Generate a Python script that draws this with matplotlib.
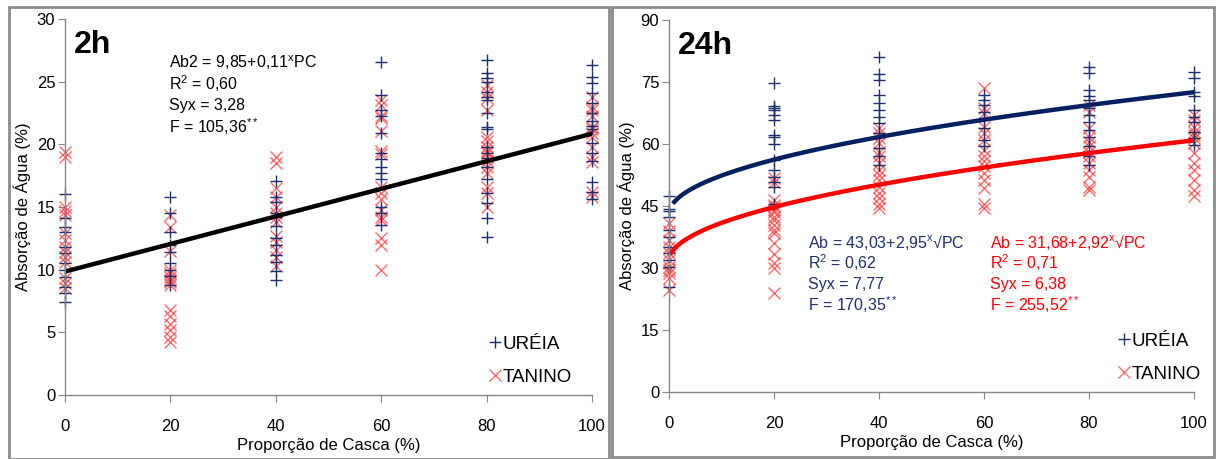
import matplotlib
matplotlib.use("Agg")
import matplotlib.pyplot as plt
from matplotlib.lines import Line2D
from matplotlib.patches import Rectangle
import numpy as np

plt.rcParams['font.family'] = ['Liberation Sans', 'DejaVu Sans']
plt.rcParams['mathtext.fontset'] = 'custom'
plt.rcParams['mathtext.rm'] = 'Liberation Sans'
plt.rcParams['mathtext.it'] = 'Liberation Sans'
plt.rcParams['mathtext.default'] = 'rm'

proporcao = [0, 20, 40, 60, 80, 100]

# 2h - valores
ureia_2h = [
    [16.0, 14.1, 13.4, 13.0, 11.8, 11.3, 10.5, 10.0, 9.4, 8.6, 8.1, 7.4],
    [15.8, 14.5, 13.0, 12.0, 11.4, 10.5, 10.0, 9.5, 8.8],
    [17.1, 15.8, 15.4, 14.5, 14.2, 13.5, 12.5, 12.0, 11.2, 10.6, 9.9, 9.2],
    [26.6, 23.9, 22.7, 22.3, 20.9, 19.3, 18.8, 18.2, 17.7, 17.2, 15.0, 14.5, 13.6],
    [26.7, 25.7, 25.3, 25.0, 24.2, 23.8, 23.5, 22.5, 21.4, 21.2, 19.8, 19.3, 18.9,
     18.2, 17.2, 16.1, 15.3, 14.1, 12.6],
    [26.3, 25.4, 24.9, 24.1, 23.3, 22.5, 21.9, 21.5, 21.2, 20.1, 19.3, 18.7, 17.0,
     16.2, 15.6],
]
tanino_2h = [
    [19.4, 19.0, 15.0, 14.7, 14.4, 12.9, 12.4, 11.8, 11.4, 11.0, 10.6, 9.3, 8.9, 8.5],
    [14.4, 13.4, 11.5, 10.0, 9.7, 9.4, 9.2, 9.0, 8.8, 6.8, 6.3, 5.7, 5.2, 4.6, 4.2],
    [19.0, 18.5, 16.5, 15.8, 15.0, 14.5, 14.2, 13.8, 12.7, 12.2, 11.6, 11.0, 10.3],
    [23.5, 23.1, 22.3, 22.1, 21.1, 19.5, 19.2, 16.6, 16.1, 15.6, 14.8, 14.2, 14.0,
     12.5, 12.0, 10.0],
    [24.7, 24.2, 23.7, 22.7, 20.6, 20.3, 19.8, 19.5, 19.3, 19.0, 18.7, 18.2, 17.7,
     16.6, 16.1, 15.0],
    [23.8, 23.0, 22.7, 22.3, 21.4, 21.2, 20.9, 20.6, 19.8, 19.0, 18.6, 16.2, 15.8],
]

# 24h
ureia_24h = [
    [47.3, 44.2, 43.9, 42.4, 39.2, 37.6, 35.2, 33.6, 32.0, 30.3, 25.5],
    [74.7, 69.2, 68.6, 68.2, 67.0, 65.8, 62.2, 61.8, 60.0, 56.1, 53.7, 52.1, 50.9,
     49.7, 45.6],
    [81.1, 76.9, 75.5, 71.9, 69.9, 68.2, 66.6, 65.0, 62.6, 61.8, 59.0, 57.0, 54.9],
    [71.9, 70.6, 69.4, 67.8, 66.2, 63.8, 61.0, 59.4],
    [78.7, 77.1, 73.1, 71.5, 70.6, 68.6, 67.0, 65.4, 63.4, 61.8, 59.4, 57.0, 54.9],
    [77.5, 75.9, 72.7, 71.5, 68.2, 66.6, 65.4, 63.0, 61.4, 59.8],
]
tanino_24h = [
    [40.8, 39.0, 36.8, 35.2, 33.6, 32.0, 30.3, 29.5, 28.7, 27.6, 24.7],
    [51.7, 50.9, 46.5, 45.2, 44.8, 44.0, 43.6, 42.4, 41.6, 40.4, 39.2, 38.4, 36.0,
     33.5, 31.1, 29.9, 23.9],
    [63.8, 62.6, 61.4, 60.2, 58.1, 57.0, 55.3, 53.7, 52.5, 51.3, 49.7, 48.1, 46.9,
     45.6, 44.4],
    [73.5, 68.6, 67.4, 64.2, 62.6, 61.0, 58.6, 57.0, 55.9, 54.7, 52.9, 51.3, 49.3,
     45.6, 44.4],
    [69.4, 67.8, 63.8, 61.8, 60.6, 59.4, 58.1, 57.0, 55.3, 53.7, 52.1, 49.7, 48.9],
    [67.0, 65.8, 64.2, 63.0, 62.2, 61.4, 60.2, 57.8, 55.3, 53.7, 51.3, 48.9, 47.3],
]

AZUL = '#1c2f6e'
VERMELHO = '#ff3b3b'
CINZA = '#868686'


def pontos(grupos):
    xs, ys = [], []
    for x, vals in zip(proporcao, grupos):
        xs += [x] * len(vals)
        ys += vals
    return xs, ys


def formatar(ax, ymax, ystep):
    ax.set_xlim(0, 100)
    ax.set_ylim(0, ymax)
    ax.set_xticks(proporcao)
    ax.set_yticks(np.arange(0, ymax + 1, ystep))
    for s in ['top', 'right']:
        ax.spines[s].set_visible(False)
    for s in ['left', 'bottom']:
        ax.spines[s].set_color(CINZA)
        ax.spines[s].set_linewidth(1)
    ax.tick_params(axis='both', colors=CINZA, labelcolor='black', length=5,
                   direction='out', labelsize=12)
    ax.tick_params(axis='x', pad=12)
    ax.tick_params(axis='y', pad=2)
    ax.set_xlabel('Proporção de Casca (%)', fontsize=12, labelpad=3)
    ax.set_ylabel('Absorção de Água (%)', fontsize=12, labelpad=4)
    ax.set_facecolor('none')


def scatter(ax, ur, ta):
    x, y = pontos(ta)
    ax.plot(x, y, 'x', color=VERMELHO, ms=8, mew=1.0, alpha=0.75, clip_on=False)
    x, y = pontos(ur)
    ax.plot(x, y, '+', color=AZUL, ms=9, mew=1.0, clip_on=False)


def legenda(ax, loc):
    h = [Line2D([], [], ls='none', marker='+', color=AZUL, ms=9, mew=1.0),
         Line2D([], [], ls='none', marker='x', color=VERMELHO, ms=8, mew=1.0, alpha=0.75)]
    ax.legend(h, ['URÉIA', 'TANINO'], frameon=False, loc='lower left',
              bbox_to_anchor=loc, fontsize=13.5, handlelength=0.5,
              handletextpad=0.15, labelspacing=0.85, borderpad=0)


fig = plt.figure(figsize=(12.16, 4.59), dpi=100)

# molduras
fig.patches.append(Rectangle((9 / 1216, 0), 600 / 1216, 452 / 459, transform=fig.transFigure,
                             fill=False, ec='#8c8c8c', lw=2))
fig.patches.append(Rectangle((612 / 1216, 2 / 459), 602 / 1216, 450 / 459, transform=fig.transFigure,
                             fill=False, ec='#8c8c8c', lw=2))

# painel 2h
ax1 = fig.add_axes([65 / 1216, 1 - 395 / 459, 527 / 1216, 376 / 459])
formatar(ax1, 30, 5)
scatter(ax1, ureia_2h, tanino_2h)
xl = np.linspace(0, 100, 200)
ax1.plot(xl, 9.85 + 0.11 * xl, color='black', lw=3.2)
ax1.text(0.016, 0.93, '2h', transform=ax1.transAxes, fontsize=23, fontweight='bold', va='center')
txt1 = ['Ab2 = 9,85+0,11$^{x}$PC', 'R$^{2}$ = 0,60', 'Syx = 3,28', 'F = 105,36$^{**}$']
for i, t in enumerate(txt1):
    ax1.text(0.197, 0.885 - i * 0.057, t, transform=ax1.transAxes, fontsize=11.5, va='center')
legenda(ax1, (0.79, 0.0))

# painel 24h
ax2 = fig.add_axes([669 / 1216, 1 - 392 / 459, 525 / 1216, 372 / 459])
formatar(ax2, 90, 15)
scatter(ax2, ureia_24h, tanino_24h)
xu = np.linspace(1, 100, 200)
xt = np.linspace(0.5, 100, 200)
ax2.plot(xu, 43.03 + 2.95 * np.sqrt(xu), color='#002060', lw=3.2)
ax2.plot(xt, 31.68 + 2.92 * np.sqrt(xt), color='#ff0000', lw=3.2)
ax2.text(0.016, 0.93, '24h', transform=ax2.transAxes, fontsize=23, fontweight='bold', va='center')
txt_u = ['Ab = 43,03+2,95$^{x}$√PC', 'R$^{2}$ = 0,62', 'Syx = 7,77', 'F = 170,35$^{**}$']
txt_t = ['Ab = 31,68+2,92$^{x}$√PC', 'R$^{2}$ = 0,71', 'Syx = 6,38', 'F = 255,52$^{**}$']
for i, (a, b) in enumerate(zip(txt_u, txt_t)):
    ax2.text(0.265, 0.403 - i * 0.0565, a, transform=ax2.transAxes, fontsize=11.5,
             va='center', color='#1c2f6e')
    ax2.text(0.612, 0.403 - i * 0.0565, b, transform=ax2.transAxes, fontsize=11.5,
             va='center', color='#ff0000')
legenda(ax2, (0.84, 0.0))

fig.savefig('out.png', dpi=100)
